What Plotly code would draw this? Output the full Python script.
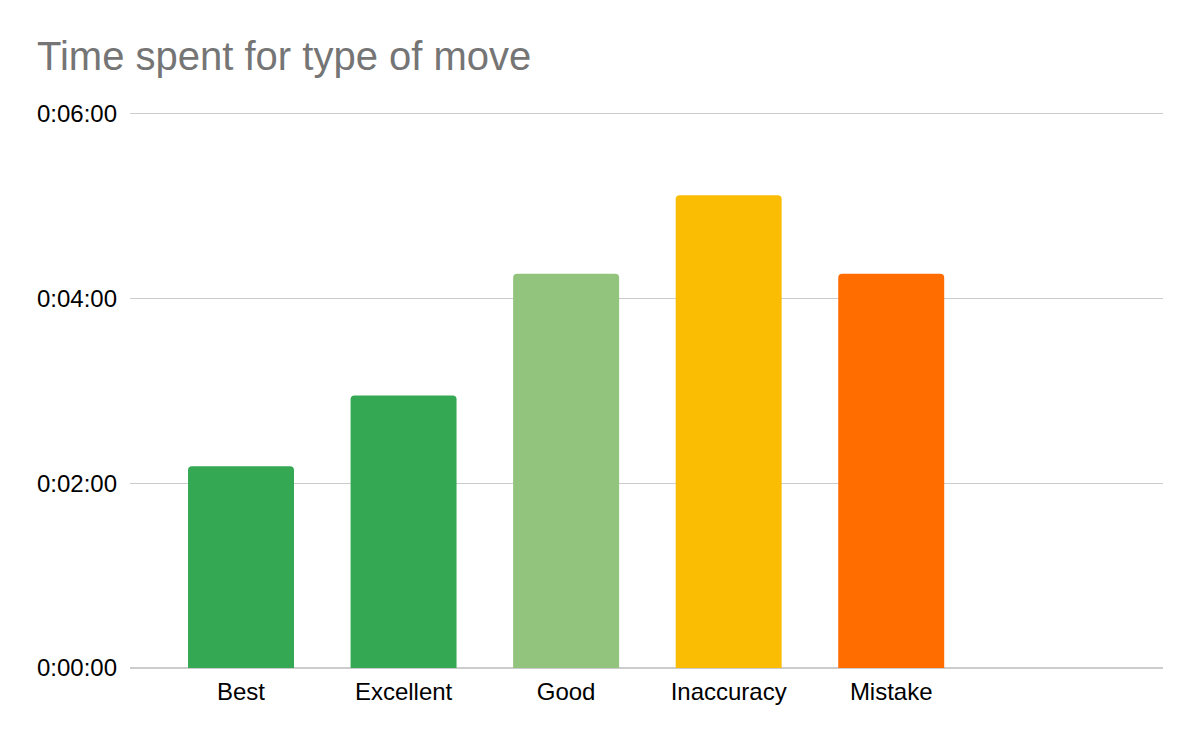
import plotly.graph_objects as go

categories = ["Best", "Excellent", "Good", "Inaccuracy", "Mistake"]
seconds = [131, 177, 256, 307, 256]
colors = ["#34A853", "#34A853", "#93C47D", "#FBBC04", "#FF6D01"]
tick_vals = [0, 120, 240, 360]
tick_text = ["0:00:00", "0:02:00", "0:04:00", "0:06:00"]
title_text = "Time spent for type of move"

FONT = "Arial, 'Liberation Sans', sans-serif"
W, H = 1192, 734

fig = go.Figure(
    go.Bar(
        x=categories,
        y=seconds,
        marker=dict(color=colors, line=dict(width=0)),
        width=0.652,
        hoverinfo="x+y",
    )
)

fig.update_layout(
    width=W,
    height=H,
    paper_bgcolor="white",
    plot_bgcolor="white",
    margin=dict(l=122, r=37.3, t=104, b=73.5, autoexpand=False),
    barcornerradius=4,
    showlegend=False,
    title=dict(
        text=title_text,
        x=29 / W,
        xanchor="left",
        y=1 - 48 / H,
        yanchor="middle",
        font=dict(family=FONT, size=40, color="#757575"),
    ),
    font=dict(family=FONT, size=24, color="#000000"),
)

fig.update_xaxes(
    type="category",
    range=[-0.683, 5.672],
    showgrid=False,
    showline=False,
    zeroline=False,
    ticks="",
    ticklabelstandoff=7,
    tickfont=dict(family=FONT, size=24, color="#000000"),
)

fig.update_yaxes(
    range=[0, 361],
    tickvals=tick_vals,
    ticktext=tick_text,
    showgrid=True,
    gridcolor="#CCCCCC",
    gridwidth=1,
    zeroline=True,
    zerolinecolor="#CCCCCC",
    zerolinewidth=1.5,
    showline=False,
    ticks="",
    ticklabelstandoff=12,
    tickfont=dict(family=FONT, size=24, color="#000000"),
)

fig.write_html("out.html")
